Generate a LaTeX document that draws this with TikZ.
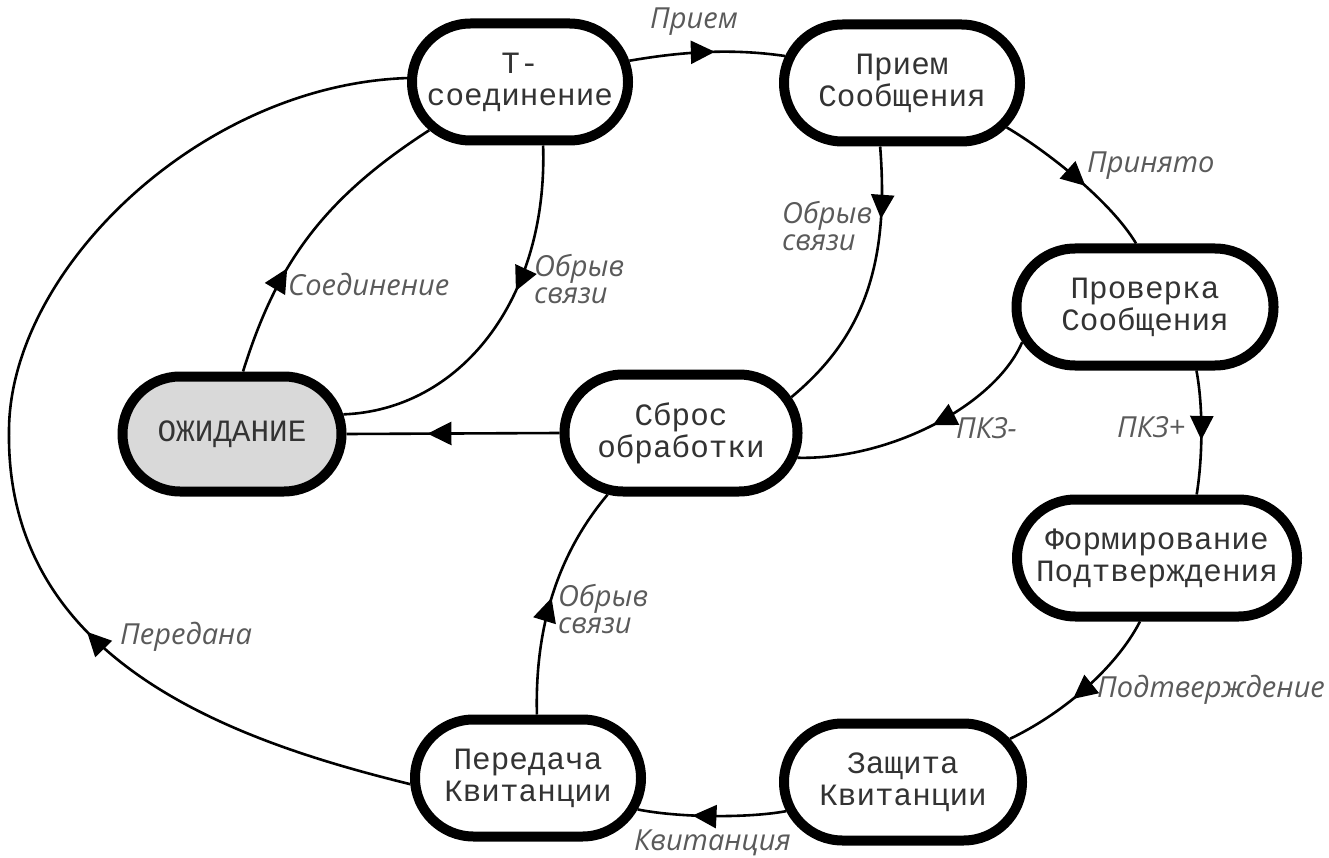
\documentclass[tikz,border=0pt]{standalone}
\usepackage{fontspec}
\usetikzlibrary{shapes.misc,arrows.meta,decorations.markings}
\newfontfamily\statefont{Liberation Mono}
\newfontfamily\edgefont{Open Sans}
\definecolor{waitfill}{HTML}{D9D9D9}
\definecolor{labelgray}{HTML}{5A5A5A}
\definecolor{statetext}{HTML}{333333}
\tikzset{
  state/.style={rounded rectangle, draw=black, line width=10pt, fill=white,
    minimum height=117pt, inner sep=0pt, align=center, text=statetext,
    font=\statefont\fontsize{31}{32}\selectfont},
  flow/.style={line width=2.6pt, postaction={decorate},
    decoration={markings, mark=at position #1 with
      {\arrow{Triangle[length=24pt,width=23pt]}}}},
  lbl/.style={inner sep=0pt, anchor=west, align=left, text=labelgray,
    font=\edgefont\itshape\fontsize{29}{27}\selectfont}
}
\begin{document}
\begin{tikzpicture}[x=1pt,y=-1pt]
\useasboundingbox (0,0) rectangle (1329,858);

% states
\node[state, minimum width=216pt] (t)  at (520,82)  {Т-\\соединение};
\node[state, minimum width=236pt] (pm) at (902,83)  {Прием\\Сообщения};
\node[state, minimum width=257pt] (pr) at (1145,307) {Проверка\\Сообщения};
\node[state, minimum width=280pt] (fp) at (1157,558) {Формирование\\Подтверждения};
\node[state, minimum width=238pt] (zk) at (903,782) {Защита\\Квитанции};
\node[state, minimum width=226pt] (pk) at (528,778) {Передача\\Квитанции};
\node[state, minimum width=219pt, minimum height=115pt, fill=waitfill] (wait) at (232,434) {ОЖИДАНИЕ};
\node[state, minimum width=233pt] (sb) at (681,433) {Сброс\\обработки};

% transitions
\draw[flow=0.55] (t.11) .. controls (680,52) and (730,48) .. (pm.167);
\draw[flow=0.56] (pm.-23.5) .. controls (1045,150) and (1110,200) .. (pr.98);
\draw[flow=0.56] (pr.-51.6) .. controls (1203,405) and (1203,455) .. (fp.58.9);
\draw[flow=0.58] (fp.255) .. controls (1115,670) and (1060,715) .. (zk.22);
\draw[flow=0.63] (zk.194.8) .. controls (750,818) and (680,818) .. (pk.-16.4);
\coordinate (far) at (9,430);
\draw[flow=362pt] (pk.183.4) .. controls (230,740) and (5,660) .. (far)
  .. controls (10,270) and (200,85) .. (t.178);
\draw[flow=0.36] (wait.80.8) .. controls (276,266) and (321,200) .. (t.208.3);
\draw[flow=0.4] (t.-70) .. controls (548,300) and (460,410) .. (wait.10.7);
\draw[flow=0.26] (pm.251) .. controls (890,270) and (860,340) .. (sb.18);
\draw[flow=0.47] (pr.196) .. controls (995,405) and (890,460) .. (sb.-12.2);
\draw[flow=0.62] (sb.west) -- (wait.east);
\draw[flow=0.5] (pk.82) .. controls (535,640) and (551,562) .. (sb.220.8);

% transition labels
\node[lbl] (lpriem) at (650,22) {Прием};
\node[lbl] (lprin) at (1087,166) {Принято};
\node[lbl] (lplus) at (1117,427) {ПКЗ+};
\node[lbl] (lpodt) at (1097,690) {Подтверждение};
\node[lbl] (lkvit) at (634,843) {Квитанция};
\node[lbl] (lpered) at (120,637) {Передана};
\node[lbl] (lsoed) at (288,284) {Соединение};
\node[lbl] (lobr1) at (534,279) {Обрыв\\связи};
\node[lbl] (lobr2) at (782,226) {Обрыв\\связи};
\node[lbl] (lobr3) at (558,609) {Обрыв\\связи};
\node[lbl] (lminus) at (956,428) {ПКЗ-};
\end{tikzpicture}
\end{document}
